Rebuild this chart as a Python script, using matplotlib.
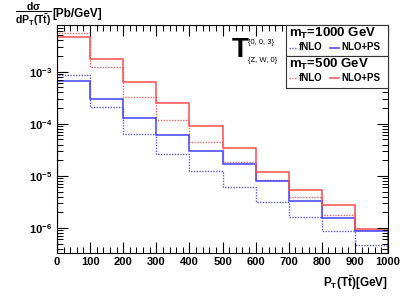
import matplotlib
matplotlib.use("Agg")
import matplotlib.pyplot as plt
from matplotlib.ticker import MultipleLocator, LogLocator, NullFormatter, FixedLocator
from matplotlib.patches import Rectangle
from matplotlib.lines import Line2D
import numpy as np

plt.rcParams['font.family'] = ['Liberation Sans', 'DejaVu Sans']
plt.rcParams['font.weight'] = 'bold'
plt.rcParams['mathtext.fontset'] = 'custom'
plt.rcParams['mathtext.rm'] = 'Liberation Sans:bold'
plt.rcParams['mathtext.it'] = 'Liberation Sans:bold'
plt.rcParams['mathtext.bf'] = 'Liberation Sans:bold'
plt.rcParams['mathtext.sf'] = 'Liberation Sans:bold'

bin_edges = [0, 100, 200, 300, 400, 500, 600, 700, 800, 900, 1000]
# mT = 500 GeV (red)
red_nlops = [4.6e-3, 1.74e-3, 6.4e-4, 2.5e-4, 9.2e-5, 3.4e-5, 1.17e-5, 5.4e-6, 2.8e-6, 9.6e-7]
red_fnlo  = [5.6e-3, 1.26e-3, 3.3e-4, 1.17e-4, 4.5e-5, 1.87e-5, 8.3e-6, 3.9e-6, 1.8e-6, 9.1e-7]
# mT = 1000 GeV (blue)
blue_nlops = [6.6e-4, 2.96e-4, 1.27e-4, 6.1e-5, 2.94e-5, 1.66e-5, 7.8e-6, 3.3e-6, 1.55e-6, 8.8e-7]
blue_fnlo  = [8.8e-4, 2.1e-4, 6.5e-5, 2.6e-5, 1.23e-5, 6.0e-6, 3.2e-6, 1.6e-6, 8.9e-7, 4.7e-7]

fig = plt.figure(figsize=(4.09, 3.0), dpi=100)
ax = fig.add_axes([57/409, 1-253/300, (388-57)/409, (253-25)/300])

c_blue_dot = (0.35, 0.35, 1.0)
c_red_dot = (1.0, 0.4, 0.4)
c_blue = (0.25, 0.25, 1.0)
c_red = (1.0, 0.3, 0.3)

ax.stairs(blue_fnlo, bin_edges, color=c_blue_dot, lw=1.0, ls=(0, (1, 1)))
ax.stairs(red_fnlo, bin_edges, color=c_red_dot, lw=1.0, ls=(0, (1, 1)))
ax.stairs(blue_nlops, bin_edges, color=c_blue, lw=1.1)
ax.stairs(red_nlops, bin_edges, color=c_red, lw=1.1)

ax.set_yscale('log')
ax.set_xlim(0, 1000)
ax.set_ylim(3.3e-7, 7.9e-3)

ax.xaxis.set_major_locator(MultipleLocator(100))
ax.xaxis.set_minor_locator(MultipleLocator(20))
ax.yaxis.set_major_locator(FixedLocator([1e-6, 1e-5, 1e-4, 1e-3]))
ax.yaxis.set_minor_locator(LogLocator(base=10, subs=np.arange(2, 10), numticks=20))
ax.yaxis.set_minor_formatter(NullFormatter())
ax.set_yticklabels([r'$10^{-6}$', r'$10^{-5}$', r'$10^{-4}$', r'$10^{-3}$'])
ax.tick_params(which='both', direction='in', top=True, right=True, labelsize=8)
ax.tick_params(which='major', length=8, width=0.8)
ax.tick_params(which='minor', length=4, width=0.7)
ax.tick_params(axis='x', pad=3)
for s in ax.spines.values():
    s.set_linewidth(0.8)
for lab in ax.get_xticklabels() + ax.get_yticklabels():
    lab.set_fontweight('bold')

# axis labels
fig.text(388/409, 1-283/300, r'$\mathregular{P_T(T\bar{t})}$[GeV]', ha='right', va='center',
         fontsize=8.5, fontweight='bold')
fig.text(15/409, 1-14/300, r'$\mathregular{\dfrac{d\sigma}{dP_T(T\bar{t})}}$', ha='left', va='center',
         fontsize=7.5, fontweight='bold')
fig.text(52/409, 1-14/300, '[Pb/GeV]', ha='left', va='center', fontsize=8.5, fontweight='bold')

# model label
fig.text(232/409, 1-50/300, 'T', ha='left', va='center', fontsize=20, fontweight='bold')
fig.text(248/409, 1-42/300, '{0, 0, 3}', ha='left', va='center', fontsize=5.5, fontweight='normal')
fig.text(248/409, 1-60/300, '{Z, W, 0}', ha='left', va='center', fontsize=5.5, fontweight='normal')

# legend boxes (drawn above the axes)
x0, x1 = 286/409, 388/409
boxes = [(25, 55.7), (55.7, 88)]
for (ta, tb) in boxes:
    ax.add_patch(Rectangle((x0, 1-tb/300), x1-x0, (tb-ta)/300, transform=fig.transFigure,
                           facecolor='white', edgecolor='#333333', lw=0.8, clip_on=False, zorder=10))

entries = [
    ('1000', c_blue_dot, c_blue, 25),
    ('500', c_red_dot, c_red, 55.7),
]
for mass, cdot, csol, ytop in entries:
    ax.text(289/409, 1-(ytop+8.5)/300, r'$\mathregular{m_T}$=' + mass + ' GeV', ha='left', va='center',
            fontsize=9.5, fontweight='bold', transform=fig.transFigure, zorder=11)
    yl = 1-(ytop+22.5)/300
    ax.add_line(Line2D([289/409, 297/409], [yl, yl], transform=fig.transFigure,
                       color=cdot, lw=1.0, ls=(0, (1, 1)), clip_on=False, zorder=11))
    ax.text(299/409, yl, 'fNLO', ha='left', va='center', fontsize=7, fontweight='bold',
            transform=fig.transFigure, zorder=11)
    ax.add_line(Line2D([330/409, 339/409], [yl, yl], transform=fig.transFigure,
                       color=csol, lw=1.1, clip_on=False, zorder=11))
    ax.text(341/409, yl, 'NLO+PS', ha='left', va='center', fontsize=7, fontweight='bold',
            transform=fig.transFigure, zorder=11)

fig.savefig('out.png', dpi=100)
